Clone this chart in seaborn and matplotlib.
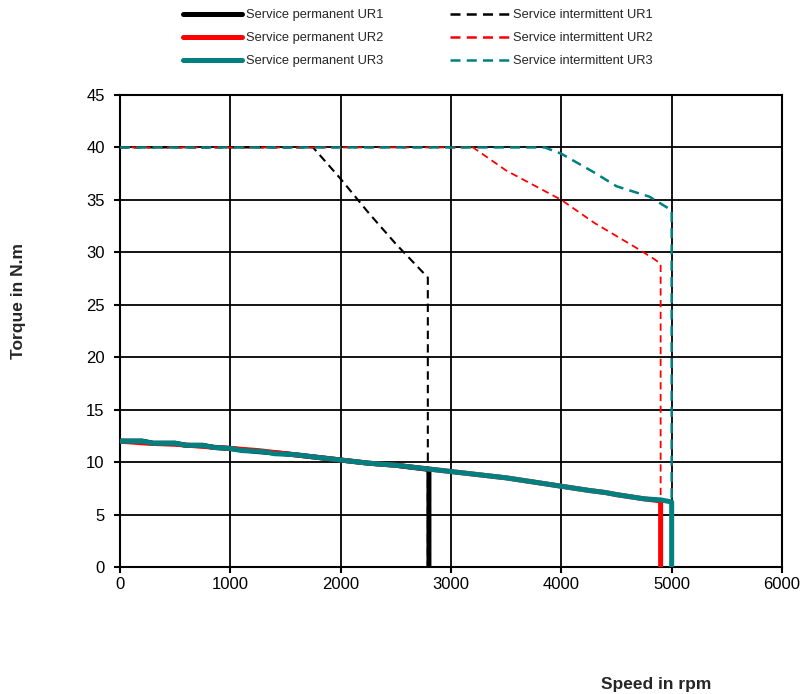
import matplotlib
matplotlib.use("Agg")
import matplotlib.pyplot as plt
import seaborn as sns
import pandas as pd

sns.set_theme(style="white")
plt.rcParams["font.family"] = ["Liberation Sans", "DejaVu Sans"]

# Continuous (permanent) duty torque curves
perm_speed_ur1 = [0, 200, 300, 500, 600, 750, 850, 1000, 1250, 1500, 1750, 2000, 2250, 2500,
                  2800, 2800]
perm_torque_ur1 = [12.0, 12.0, 11.8, 11.8, 11.6, 11.6, 11.4, 11.3, 11.0, 10.8, 10.5, 10.2, 9.9,
                   9.7, 9.3, 0]

perm_speed_ur2 = [0, 250, 500, 750, 1000, 1250, 1500, 1750, 2000, 2250, 2500, 2750, 3000,
                  3250, 3500, 3750, 4000, 4250, 4400, 4500, 4750, 4900, 4900]
perm_torque_ur2 = [12.0, 11.8, 11.7, 11.5, 11.3, 11.1, 10.8, 10.5, 10.2, 9.9, 9.7, 9.4, 9.1,
                   8.8, 8.5, 8.1, 7.7, 7.3, 7.1, 6.9, 6.5, 6.3, 0]

perm_speed_ur3 = [0, 200, 300, 500, 600, 750, 850, 1000, 1100, 1300, 1400, 1600, 1750, 2000,
                  2250, 2500, 2750, 3000, 3250, 3500, 3750, 4000, 4250, 4400, 4500, 4750,
                  4900, 5000, 5000]
perm_torque_ur3 = [12.0, 12.0, 11.8, 11.8, 11.6, 11.6, 11.4, 11.3, 11.1, 11.0, 10.8, 10.7,
                   10.5, 10.2, 9.9, 9.7, 9.4, 9.1, 8.8, 8.5, 8.1, 7.7, 7.3, 7.1, 6.9, 6.5,
                   6.4, 6.2, 0]

# Intermittent duty torque curves
int_speed_ur1 = [0, 1750, 2000, 2250, 2500, 2790, 2790]
int_torque_ur1 = [40, 40, 37.0, 33.8, 30.8, 27.6, 0]

int_speed_ur2 = [0, 3200, 3500, 4000, 4300, 4700, 4850, 4900, 4900]
int_torque_ur2 = [40, 40, 37.8, 35.0, 32.8, 30.3, 29.3, 28.9, 0]

int_speed_ur3 = [0, 3850, 4000, 4300, 4500, 4800, 5000, 5000]
int_torque_ur3 = [40, 40, 39.4, 37.6, 36.3, 35.3, 34.0, 0]

colors = {"UR1": "#000000", "UR2": "#ff0000", "UR3": "#008080"}

fig = plt.figure(figsize=(8.02, 6.94), dpi=100)
ax = fig.add_axes([120 / 802, 1 - 567 / 694, 662 / 802, 472 / 694])

perm = [("UR1", perm_speed_ur1, perm_torque_ur1),
        ("UR2", perm_speed_ur2, perm_torque_ur2),
        ("UR3", perm_speed_ur3, perm_torque_ur3)]
inter = [("UR1", int_speed_ur1, int_torque_ur1),
         ("UR2", int_speed_ur2, int_torque_ur2),
         ("UR3", int_speed_ur3, int_torque_ur3)]

dash = (0, (4, 2.5))
handles_perm, handles_int = [], []
for name, xs, ys in inter:
    df = pd.DataFrame({"speed": xs, "torque": ys})
    lw = {"UR1": 1.5, "UR2": 1.3, "UR3": 1.8}[name]
    sns.lineplot(data=df, x="speed", y="torque", ax=ax, sort=False, estimator=None,
                 color=colors[name], linewidth=lw, linestyle=dash, zorder=3)
    handles_int.append(plt.Line2D([], [], color=colors[name], linewidth=1.8,
                                  linestyle=dash,
                                  label=f"Service intermittent {name}"))

for name, xs, ys in perm:
    df = pd.DataFrame({"speed": xs, "torque": ys})
    sns.lineplot(data=df, x="speed", y="torque", ax=ax, sort=False, estimator=None,
                 color=colors[name], linewidth=3.6, zorder=4)
    handles_perm.append(plt.Line2D([], [], color=colors[name], linewidth=3.6,
                                   solid_capstyle="round",
                                   label=f"Service permanent {name}"))

ax.set_xlim(0, 6000)
ax.set_ylim(0, 45)
ax.set_xticks(range(0, 6001, 1000))
ax.set_yticks(range(0, 46, 5))
ax.grid(True, color="black", linewidth=1.3)
ax.set_axisbelow(True)
for sp in ax.spines.values():
    sp.set_color("black")
    sp.set_linewidth(1.5)
ax.tick_params(axis="both", direction="out", length=4, width=1.5, color="black",
               labelsize=12, labelcolor="black", bottom=True, left=True)
ax.tick_params(axis="x", pad=3)
ax.tick_params(axis="y", pad=7)
ax.set_xlabel("")
ax.set_ylabel("")

fig.legend(handles=handles_perm + handles_int, ncol=2, loc="upper left",
           bbox_to_anchor=(183 / 802, 1 - 9 / 694), bbox_transform=fig.transFigure,
           frameon=False, fontsize=9.3, borderpad=0, borderaxespad=0,
           handlelength=4.6, handletextpad=0.25, columnspacing=5.2,
           labelspacing=0.85)

fig.text(19 / 802, 1 - 301 / 694, "Torque in N.m", rotation=90, fontsize=12.5,
         fontweight="bold", ha="center", va="center")
fig.text(656 / 802, 1 - 684 / 694, "Speed in rpm", fontsize=12.5,
         fontweight="bold", ha="center", va="center")

fig.savefig("out.png", dpi=100)
